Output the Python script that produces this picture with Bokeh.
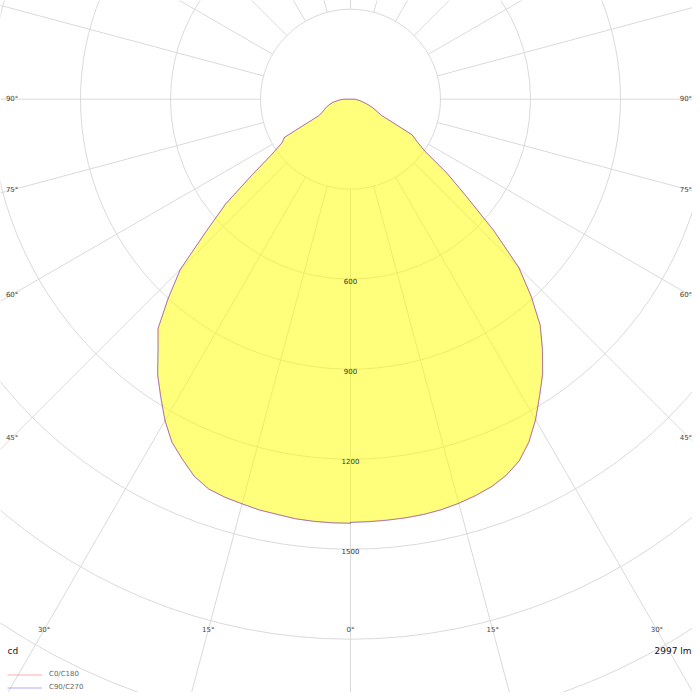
import numpy as np
from bokeh.plotting import figure
from bokeh.models import Range1d, Legend, LegendItem, Label
from bokeh.embed import file_html
from bokeh.resources import INLINE
from bokeh.core.properties import value

# ---------------- data ----------------
gamma = [0, 2.5, 5, 7.5, 10, 12.5, 15, 17.5, 20, 22.5, 25, 27.5, 30, 32.5, 35, 37.5,
         40, 42.5, 45, 47.5, 50, 52.5, 55, 57.5, 60, 62.5, 65, 67.5, 70, 72.5, 75,
         77.5, 80, 82.5, 85, 87.5, 90]

c0 = [1410, 1409, 1408, 1408, 1406, 1402, 1394, 1385, 1375, 1358, 1330, 1287, 1235,
      1172, 1118, 1050, 985, 890, 795, 645, 505, 405, 305, 262, 238, 115, 100, 85,
      75, 62, 50, 42, 35, 28, 22, 18, 16]
c180 = [1414, 1414, 1413, 1410, 1406, 1402, 1397, 1392, 1382, 1360, 1326, 1288, 1238,
        1176, 1122, 1055, 997, 900, 800, 655, 545, 410, 320, 272, 255, 118, 105, 97,
        90, 82, 75, 67, 58, 48, 38, 30, 23]
c90 = [1411, 1410, 1409, 1407, 1405, 1401, 1395, 1386, 1374, 1356, 1331, 1289, 1233,
       1174, 1116, 1052, 983, 893, 792, 648, 503, 407, 303, 264, 236, 116, 98, 86,
       74, 63, 51, 41, 34, 29, 21, 18, 15]
c270 = [1413, 1413, 1412, 1411, 1405, 1403, 1396, 1391, 1383, 1361, 1324, 1290, 1236,
        1178, 1120, 1053, 999, 898, 803, 652, 543, 412, 318, 270, 253, 120, 104, 96,
        91, 81, 74, 66, 59, 47, 39, 29, 22]

series_names = ["C0/C180", "C90/C270"]
ring_values = [300, 600, 900, 1200, 1500, 1800, 2100, 2400]
ring_labels = [600, 900, 1200, 1500]
spoke_angles = list(range(0, 360, 15))
angle_ticks = [0, 15, 30, 45, 60, 75, 90]
unit_label = "cd"
flux_label = "2997 lm"

# ---------------- geometry ----------------
PX = 0.3            # pixels per cd
W = H = 692
CX, CY = 350.0, 98.7   # pole position inside the frame (px)
BOX_X, BOX_Y = 1128.0, 1769.0   # where angle labels sit (cd)

p = figure(width=W, height=H,
           x_range=Range1d(-CX / PX, (W - CX) / PX),
           y_range=Range1d(-(H - CY) / PX, CY / PX),
           output_backend="svg", toolbar_location=None,
           x_axis_location=None, y_axis_location=None, min_border=0)
p.xgrid.visible = False
p.ygrid.visible = False
p.outline_line_color = None
p.background_fill_color = "white"

GRID = "#dadada"
th = np.radians(spoke_angles)
r0, r1 = ring_values[0], 4000
p.segment(x0=r0 * np.sin(th), y0=-r0 * np.cos(th),
          x1=r1 * np.sin(th), y1=-r1 * np.cos(th),
          line_color=GRID, line_width=1)
p.circle(x=0, y=0, radius=ring_values, fill_color=None,
         line_color=GRID, line_width=1)


def outline(right, left):
    g = np.radians(gamma)
    r = np.asarray(right, float)
    l = np.asarray(left, float)
    xs = np.concatenate([r * np.sin(g), (-l * np.sin(g))[::-1]])
    ys = np.concatenate([-r * np.cos(g), (-l * np.cos(g))[::-1]])
    return xs, ys


xa, ya = outline(c0, c180)
xb, yb = outline(c90, c270)
p.patch(xa, ya, fill_color="#ffff00", fill_alpha=0.3, line_color=None)
p.patch(xb, yb, fill_color="#ffff00", fill_alpha=0.3, line_color=None)
la = p.line(np.append(xa, xa[0]), np.append(ya, ya[0]),
            line_color="#ff0000", line_alpha=0.33, line_width=1)
lb = p.line(np.append(xb, xb[0]), np.append(yb, yb[0]),
            line_color="#0000ff", line_alpha=0.33, line_width=1)

# intensity labels
p.text(x=[0] * len(ring_labels), y=[-v for v in ring_labels],
       text=[str(v) for v in ring_labels], y_offset=2,
       text_font=value("DejaVu Sans"), text_font_size="7px",
       text_color="#333333", text_align="center", text_baseline="middle")


# angle labels
def label_pos(angles, side):
    a = np.radians(angles)
    c = np.cos(a)
    s = np.sin(a)
    rb = np.where(c > 1e-9, BOX_Y / np.maximum(c, 1e-9), np.inf)
    rs = np.where(s > 1e-9, BOX_X / np.maximum(s, 1e-9), np.inf)
    r = np.minimum(rb, rs)
    return side * r * s, -r * c


bottom_ticks = [a for a in angle_ticks if a <= 30]
side_ticks = [a for a in angle_ticks if a > 30]
common = dict(text_font=value("DejaVu Sans"), text_font_size="7px",
              text_color="#444444", text_align="center", text_baseline="middle")
xb_r, yb_r = label_pos(bottom_ticks, 1)
xb_l, yb_l = label_pos([a for a in bottom_ticks if a != 0], -1)
p.text(x=xb_r, y=yb_r, text=[f"{a}°" for a in bottom_ticks], **common)
p.text(x=xb_l, y=yb_l, text=[f"{a}°" for a in bottom_ticks if a != 0], **common)
xs_r, ys_r = label_pos(side_ticks, 1)
xs_l, ys_l = label_pos(side_ticks, -1)
p.text(x=xs_r, y=ys_r, text=[f"{a}°" for a in side_ticks], x_offset=-3, **common)
p.text(x=xs_l, y=ys_l, text=[f"{a}°" for a in side_ticks], **common)

# unit / flux
p.add_layout(Label(x=7, y=42, x_units="screen", y_units="screen", text=unit_label,
                   text_font="DejaVu Sans", text_font_size="9px", text_color="#111111",
                   text_align="left", text_baseline="middle"))
p.add_layout(Label(x=691, y=42, x_units="screen", y_units="screen", text=flux_label,
                   text_font="DejaVu Sans", text_font_size="9px", text_color="#111111",
                   text_align="right", text_baseline="middle"))

legend = Legend(items=[LegendItem(label=series_names[0], renderers=[la]),
                       LegendItem(label=series_names[1], renderers=[lb])],
                location=(7, -1.5), glyph_width=35, glyph_height=13, label_height=13,
                spacing=0, padding=0, margin=0, label_standoff=7,
                border_line_color=None, background_fill_alpha=0,
                label_text_font="DejaVu Sans", label_text_font_size="7px",
                label_text_color="#666666")
p.add_layout(legend)

open("out.html", "w").write(file_html(p, INLINE))
